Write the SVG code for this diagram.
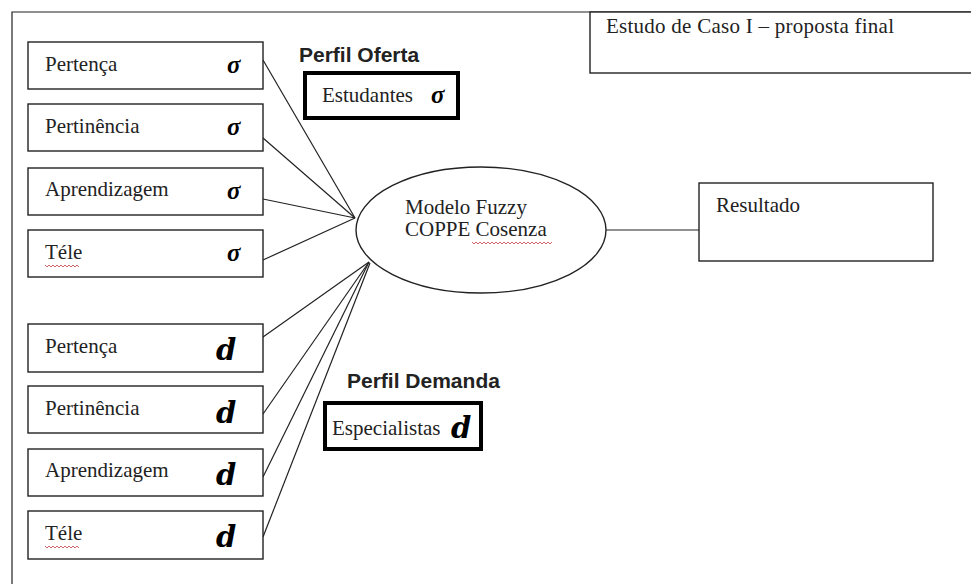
<svg xmlns="http://www.w3.org/2000/svg" width="971" height="584" viewBox="0 0 971 584">
<style>
.bg{fill:#ffffff}
.box{fill:#ffffff;stroke:#222;stroke-width:1.4}
.thick{fill:#ffffff;stroke:#000;stroke-width:4}
.t{font-family:"Liberation Serif","Times New Roman",serif;font-size:21px;fill:#222}
.h{font-family:"Liberation Sans",Arial,sans-serif;font-size:21px;font-weight:bold;fill:#222}
.sig{font-family:"Liberation Serif","Times New Roman",serif;font-size:25px;font-weight:bold;font-style:italic;fill:#000}
.dd{font-family:"DejaVu Serif","Liberation Serif",serif;font-size:29px;font-weight:bold;font-style:italic;fill:#000}
.ln{stroke:#222;stroke-width:1.2;fill:none}
.wave{stroke:#c66;stroke-width:1;fill:none}
</style>
<rect class="bg" x="0" y="0" width="971" height="584"/>
<path class="ln" d="M12 584 V12 H971" stroke-width="1.5"/>

<g id="title">
<rect class="box" x="590" y="12" width="390" height="61"/>
<text class="t" x="606" y="33" textLength="288" lengthAdjust="spacing">Estudo de Caso I – proposta final</text>
</g>

<g id="connectors">
<line class="ln" x1="263" y1="60" x2="355" y2="218"/>
<line class="ln" x1="263" y1="138" x2="355" y2="218"/>
<line class="ln" x1="263" y1="199" x2="355" y2="218"/>
<line class="ln" x1="263" y1="260" x2="355" y2="218"/>
<line class="ln" x1="263" y1="337" x2="369" y2="262"/>
<line class="ln" x1="263" y1="414" x2="369" y2="262"/>
<line class="ln" x1="263" y1="477" x2="369" y2="262"/>
<line class="ln" x1="263" y1="537" x2="370" y2="263"/>
<line class="ln" x1="606" y1="230" x2="699" y2="230"/>
</g>

<g id="o1"><rect class="box" x="28" y="42" width="235" height="47"/><text class="t" x="45" y="71">Pertença</text><text class="sig" x="227" y="73">σ</text></g>
<g id="o2"><rect class="box" x="28" y="104" width="235" height="47"/><text class="t" x="45" y="133">Pertinência</text><text class="sig" x="227" y="135">σ</text></g>
<g id="o3"><rect class="box" x="28" y="168" width="235" height="47"/><text class="t" x="45" y="196">Aprendizagem</text><text class="sig" x="227" y="199">σ</text></g>
<g id="o4"><rect class="box" x="28" y="230" width="235" height="47"/><text class="t" x="45" y="259">Téle</text><path class="wave" d="M45 265 l2 2 l2 -2 l2 2 l2 -2 l2 2 l2 -2 l2 2 l2 -2 l2 2 l2 -2 l2 2 l2 -2 l2 2 l2 -2 l2 2 l2 -2 l2 2"/><text class="sig" x="227" y="261">σ</text></g>

<g id="d1"><rect class="box" x="28" y="324" width="235" height="48"/><text class="t" x="45" y="353">Pertença</text><text class="dd" x="216" y="360">d</text></g>
<g id="d2"><rect class="box" x="28" y="386" width="235" height="47"/><text class="t" x="45" y="415">Pertinência</text><text class="dd" x="216" y="423">d</text></g>
<g id="d3"><rect class="box" x="28" y="449" width="235" height="47"/><text class="t" x="45" y="477">Aprendizagem</text><text class="dd" x="216" y="485">d</text></g>
<g id="d4"><rect class="box" x="28" y="511" width="235" height="48"/><text class="t" x="45" y="540">Téle</text><path class="wave" d="M45 546 l2 2 l2 -2 l2 2 l2 -2 l2 2 l2 -2 l2 2 l2 -2 l2 2 l2 -2 l2 2 l2 -2 l2 2 l2 -2 l2 2 l2 -2 l2 2"/><text class="dd" x="216" y="547">d</text></g>

<g id="oferta">
<text class="h" x="299" y="62">Perfil Oferta</text>
<rect class="thick" x="305" y="73" width="153" height="45"/>
<text class="t" x="322" y="102">Estudantes</text><text class="sig" x="431" y="103">σ</text>
</g>

<g id="demanda">
<text class="h" x="347" y="388">Perfil Demanda</text>
<rect class="thick" x="325" y="403" width="156" height="46"/>
<text class="t" x="332" y="435">Especialistas</text><text class="dd" x="451" y="438">d</text>
</g>

<g id="modelo">
<ellipse class="box" cx="481" cy="230" rx="125" ry="63"/>
<text class="t" x="405" y="214">Modelo Fuzzy</text>
<text class="t" x="405" y="236">COPPE  Cosenza</text>
<path class="wave" d="M472 242 l2 2 l2 -2 l2 2 l2 -2 l2 2 l2 -2 l2 2 l2 -2 l2 2 l2 -2 l2 2 l2 -2 l2 2 l2 -2 l2 2 l2 -2 l2 2 l2 -2 l2 2 l2 -2 l2 2 l2 -2 l2 2 l2 -2 l2 2 l2 -2 l2 2 l2 -2 l2 2 l2 -2 l2 2 l2 -2 l2 2 l2 -2 l2 2 l2 -2 l2 2 l2 -2 l2 2 l2 -2"/>
</g>

<g id="resultado">
<rect class="box" x="699" y="183" width="234" height="78"/>
<text class="t" x="716" y="212">Resultado</text>
</g>
</svg>
